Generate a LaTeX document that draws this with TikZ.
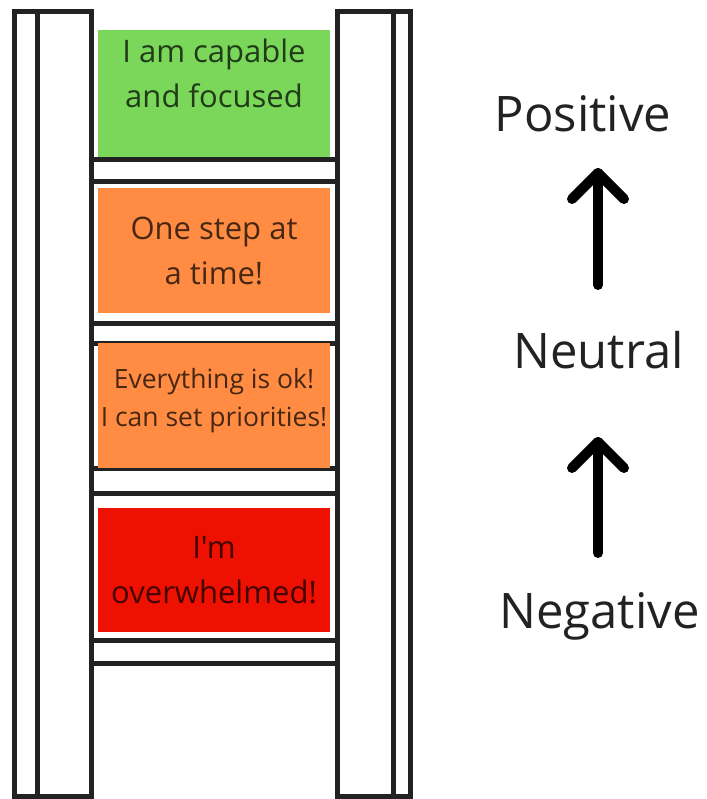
\documentclass[tikz,border=0pt]{standalone}
\usepackage{fontspec}
\setmainfont{Open Sans}[Ligatures=TeXOff]
\definecolor{linegray}{HTML}{222222}
\definecolor{boxgreen}{HTML}{7AD75A}
\definecolor{boxorange}{HTML}{FF8C42}
\definecolor{boxred}{HTML}{EE1000}
\begin{document}
\begin{tikzpicture}[x=1pt,y=-1pt,
  rail/.style={draw=linegray,line width=5pt},
  rung/.style={draw=linegray,line width=5pt},
  slab/.style={draw=none,minimum width=232pt,inner sep=0pt,outer sep=0pt},
  boxtext/.style={align=center,inner sep=0pt,text=black,text opacity=0.72,font=\fontsize{31}{45}\selectfont},
  smalltext/.style={align=center,inner sep=0pt,text=black,text opacity=0.72,font=\fontsize{26.5}{38}\selectfont},
  label/.style={anchor=base,inner sep=0pt,text=linegray,font=\fontsize{49}{55}\selectfont},
  arrowline/.style={draw=black,line width=10pt,line cap=round,line join=round}]
\useasboundingbox (0,0) rectangle (706,799);
% rails
\draw[rail] (14,796) -- (14,12) -- (91,12) -- (91,796) -- cycle;
\draw[rail] (37,12) -- (37,796);
\draw[rail] (337,796) -- (337,12) -- (410,12) -- (410,796) -- cycle;
\draw[rail] (393,12) -- (393,796);
% rungs
\foreach \y in {160,182,323,343,468,493,640,663}
  \draw[rung] (91,\y) -- (337,\y);
% boxes
\node[slab,fill=boxgreen,minimum height=127pt] (b1) at (214,93.5) {};
\node[slab,fill=boxorange,minimum height=125pt] (b2) at (214,250.5) {};
\node[slab,fill=boxorange,minimum height=125pt] (b3) at (214,405.5) {};
\node[slab,fill=boxred,minimum height=124pt] (b4) at (214,570) {};
\node[boxtext] (t1) at (214,73) {I am capable\\and focused};
\node[boxtext] (t2) at (214,251) {One step at\\a time!};
\node[smalltext] (t3) at (214,401) {Everything is ok!\\I can set priorities!};
\node[boxtext] (t4) at (214,570) {I'm\\overwhelmed!};
% labels
\node[label] (pos) at (583,132) {Positive};
\node[label] (neu) at (598.5,368) {Neutral};
\node[label] (neg) at (599.5,628) {Negative};
% arrows
\coordinate (a1s) at (598,285);
\coordinate (a1t) at (598,173);
\coordinate (a2s) at (598,553);
\coordinate (a2t) at (598,442);
\draw[arrowline] (a1s) -- (a1t);
\draw[arrowline] ([shift={(-26,26)}]a1t) -- (a1t) -- ([shift={(26,26)}]a1t);
\draw[arrowline] (a2s) -- (a2t);
\draw[arrowline] ([shift={(-26,26)}]a2t) -- (a2t) -- ([shift={(26,26)}]a2t);
\end{tikzpicture}
\end{document}
